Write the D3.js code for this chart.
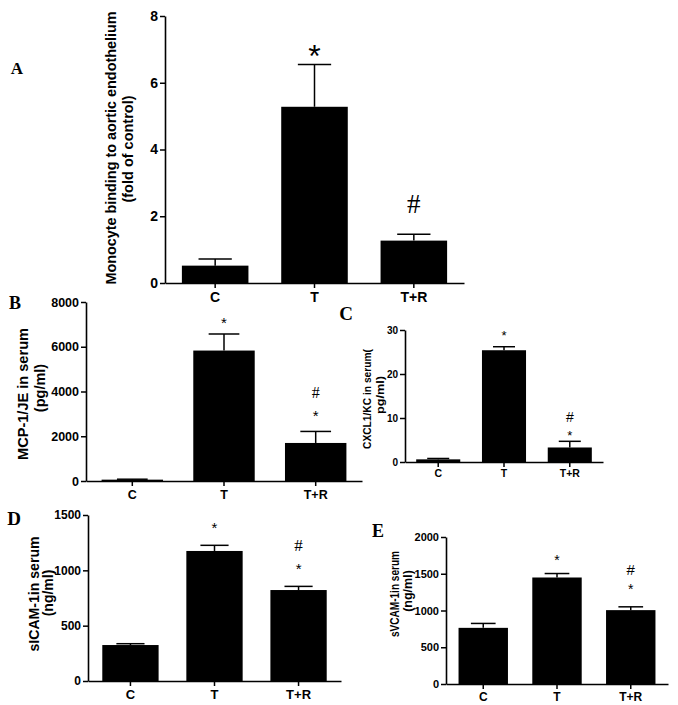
<!DOCTYPE html>
<html><head><meta charset="utf-8">
<script src="https://cdn.jsdelivr.net/npm/d3@7"></script>
<style>
html,body{margin:0;padding:0;background:#fff;}
svg{display:block;}
</style></head>
<body>
<svg id="chart" width="678" height="705"></svg>
<script>
// ---------- data ----------
const categories = ["C", "T", "T+R"];

const monocyteMean = [0.52, 5.28, 1.27];
const monocyteSem  = [0.20, 1.27, 0.19];
const monocyteTicks = [0, 2, 4, 6, 8];
const monocyteMarks = [[], ["*"], ["#"]];

const mcpMean = [60, 5830, 1700];
const mcpSem  = [20, 740, 515];
const mcpTicks = [0, 2000, 4000, 6000, 8000];
const mcpMarks = [[], ["*"], ["#", "*"]];

const cxclMean = [0.6, 25.4, 3.3];
const cxclSem  = [0.2, 0.8, 1.4];
const cxclTicks = [0, 10, 20, 30];
const cxclMarks = [[], ["*"], ["#", "*"]];

const sicamMean = [325, 1175, 822];
const sicamSem  = [12, 51, 33];
const sicamTicks = [0, 500, 1000, 1500];
const sicamMarks = [[], ["*"], ["#", "*"]];

const svcamMean = [764, 1449, 1005];
const svcamSem  = [60, 54, 45];
const svcamTicks = [0, 500, 1000, 1500, 2000];
const svcamMarks = [[], ["*"], ["#", "*"]];

// ---------- drawing ----------
const svg = d3.select("#chart");
const SANS = "'Liberation Sans', Arial, sans-serif";
const SERIF = "'Liberation Serif', 'Times New Roman', serif";

function panel(cfg) {
  const g = svg.append("g");
  const x = d3.scaleBand().domain(categories).range([cfg.x0, cfg.x1])
    .paddingInner(0.33).paddingOuter(0.17);
  const y = d3.scaleLinear().domain([0, cfg.ticks[cfg.ticks.length - 1]]).range([cfg.yb, cfg.yt]);

  // bars
  g.selectAll("rect.bar").data(categories).join("rect")
    .attr("x", d => x(d)).attr("width", x.bandwidth())
    .attr("y", (d, i) => y(cfg.mean[i]))
    .attr("height", (d, i) => y(0) - y(cfg.mean[i]))
    .attr("fill", "#000");

  // error bars (upper)
  const cap = x.bandwidth() / 2;
  categories.forEach((d, i) => {
    const cx = x(d) + x.bandwidth() / 2;
    const top = y(cfg.mean[i] + cfg.sem[i]);
    g.append("line").attr("x1", cx).attr("x2", cx)
      .attr("y1", y(cfg.mean[i])).attr("y2", top)
      .attr("stroke", "#000").attr("stroke-width", 1.5);
    g.append("line").attr("x1", cx - cap / 2).attr("x2", cx + cap / 2)
      .attr("y1", top).attr("y2", top)
      .attr("stroke", "#000").attr("stroke-width", 1.5);
  });

  // axes
  const ya = g.append("g").attr("transform", `translate(${cfg.x0},0)`)
    .call(d3.axisLeft(y).tickValues(cfg.ticks).tickFormat(d3.format("d"))
      .tickSize(5).tickSizeOuter(0).tickPadding(2));
  ya.select(".domain").attr("stroke-width", 1.6);
  ya.selectAll(".tick line").attr("stroke-width", 1.5);
  ya.selectAll(".tick text").attr("font-family", SANS).attr("font-weight", "bold")
    .attr("font-size", cfg.tickFont).attr("fill", "#000");

  const xa = g.append("g").attr("transform", `translate(0,${cfg.yb})`)
    .call(d3.axisBottom(x).tickSize(5).tickSizeOuter(0).tickPadding(cfg.xPad));
  xa.select(".domain").attr("stroke-width", 1.6);
  xa.selectAll(".tick line").attr("stroke-width", 1.5);
  xa.selectAll(".tick text").attr("font-family", SANS).attr("font-weight", "bold")
    .attr("font-size", cfg.xFont).attr("fill", "#000");

  // y title
  cfg.title.forEach(t => {
    const txt = g.append("text")
      .attr("transform", `translate(${t.x},${t.y}) rotate(-90)`)
      .attr("text-anchor", t.anchor || "middle")
      .attr("dominant-baseline", "central")
      .attr("font-family", SANS).attr("font-weight", "bold")
      .attr("font-size", t.size).attr("fill", "#000")
      .text(t.text);
    if (t.len) txt.attr("textLength", t.len).attr("lengthAdjust", "spacingAndGlyphs");
  });

  // significance marks
  cfg.marks.forEach((arr, i) => {
    const cx = x(categories[i]) + x.bandwidth() / 2;
    arr.forEach((m, j) => {
      const s = cfg.markStyle[i][j];
      g.append("text").attr("x", cx).attr("y", s.y)
        .attr("text-anchor", "middle")
        .attr("font-family", s.serif ? SERIF : SANS)
        .attr("font-weight", s.bold ? "bold" : "normal")
        .attr("font-size", s.size).attr("fill", "#000")
        .text(m);
    });
  });

  // panel letter
  g.append("text").attr("x", cfg.letter.x).attr("y", cfg.letter.y)
    .attr("text-anchor", "middle")
    .attr("font-family", SERIF).attr("font-weight", "bold")
    .attr("font-size", cfg.letter.size).attr("fill", "#000")
    .text(cfg.letter.t);
}

// Panel A
panel({
  x0: 165, x1: 464, yb: 283, yt: 16,
  mean: monocyteMean, sem: monocyteSem, ticks: monocyteTicks, marks: monocyteMarks,
  tickFont: 14, xFont: 14, xPad: 4,
  title: [
    {text: "Monocyte binding to aortic endothelium", x: 111, y: 148, size: 14.5, len: 273},
    {text: "(fold of control)", x: 128, y: 149, size: 14.5}
  ],
  markStyle: [[], [{y: 67, size: 32, serif: false}], [{y: 213, size: 27, serif: true}]],
  letter: {t: "A", x: 17, y: 74, size: 17}
});

// Panel B
panel({
  x0: 86, x1: 362, yb: 481, yt: 302,
  mean: mcpMean, sem: mcpSem, ticks: mcpTicks, marks: mcpMarks,
  tickFont: 12.5, xFont: 12.5, xPad: 4,
  title: [
    {text: "MCP-1/JE in serum", x: 23, y: 394, size: 14.5, len: 132},
    {text: "(pg/ml)", x: 40, y: 388, size: 14.5}
  ],
  markStyle: [[], [{y: 328, size: 15}], [{y: 398, size: 16, serif: true}, {y: 421, size: 15}]],
  letter: {t: "B", x: 15, y: 309, size: 18}
});

// Panel C
panel({
  x0: 405, x1: 603, yb: 462, yt: 330,
  mean: cxclMean, sem: cxclSem, ticks: cxclTicks, marks: cxclMarks,
  tickFont: 10, xFont: 10.5, xPad: 3,
  title: [
    {text: "CXCL1/KC in serum(", x: 367, y: 399, size: 11.5, len: 100},
    {text: "pg/ml)", x: 380, y: 395, size: 11.5, len: 38}
  ],
  markStyle: [[], [{y: 340, size: 13}], [{y: 422, size: 14}, {y: 440, size: 13}]],
  letter: {t: "C", x: 346, y: 320, size: 19}
});

// Panel D
panel({
  x0: 88, x1: 341, yb: 681, yt: 515,
  mean: sicamMean, sem: sicamSem, ticks: sicamTicks, marks: sicamMarks,
  tickFont: 12, xFont: 13, xPad: 4,
  title: [
    {text: "sICAM-1in serum", x: 34, y: 594, size: 14, len: 115},
    {text: "(ng/ml)", x: 48, y: 593, size: 14}
  ],
  markStyle: [[], [{y: 533, size: 15}], [{y: 551, size: 17, serif: true}, {y: 574, size: 15}]],
  letter: {t: "D", x: 14, y: 525, size: 19}
});

// Panel E
panel({
  x0: 446, x1: 668, yb: 684, yt: 537,
  mean: svcamMean, sem: svcamSem, ticks: svcamTicks, marks: svcamMarks,
  tickFont: 11, xFont: 12, xPad: 3,
  title: [
    {text: "sVCAM-1in serum", x: 395, y: 594, size: 12.5, len: 86},
    {text: "(ng/ml)", x: 408, y: 591, size: 12.5}
  ],
  markStyle: [[], [{y: 565, size: 14}], [{y: 575, size: 15}, {y: 594, size: 14}]],
  letter: {t: "E", x: 378, y: 537, size: 18}
});
</script>
</body></html>
